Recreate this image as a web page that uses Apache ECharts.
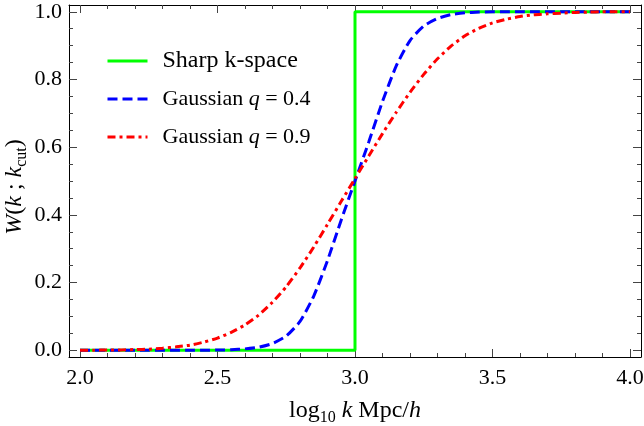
<!DOCTYPE html>
<html>
<head>
<meta charset="utf-8">
<script src="https://cdn.jsdelivr.net/npm/echarts@6/dist/echarts.min.js"></script>
<style>html,body{margin:0;padding:0;background:#fff}#c{width:644px;height:426px}</style>
</head>
<body>
<div id="c"></div>
<script>
// ---- data ----
const seriesNames = ['Sharp k-space', 'Gaussian q = 0.4', 'Gaussian q = 0.9'];
const sharpX = [2.0, 3.0, 3.0, 4.0];
const sharpY = [0, 0, 1, 1];
const gaussX = [2.0, 2.05, 2.1, 2.15, 2.2, 2.25, 2.3, 2.35, 2.4, 2.45, 2.5, 2.55, 2.6, 2.65, 2.7, 2.75, 2.8, 2.85, 2.9, 2.95, 3.0,
                3.05, 3.1, 3.15, 3.2, 3.25, 3.3, 3.35, 3.4, 3.45, 3.5, 3.55, 3.6, 3.65, 3.7, 3.75, 3.8, 3.85, 3.9, 3.95, 4.0];
const gaussQ04 = [0, 0, 0, 0, 0, 0, 0, 0, 0, 0.0002, 0.0005, 0.0015, 0.004, 0.009, 0.02, 0.042, 0.085, 0.16, 0.265, 0.385, 0.5,
                  0.615, 0.735, 0.84, 0.915, 0.958, 0.98, 0.992, 0.997, 0.999, 1, 1, 1, 1, 1, 1, 1, 1, 1, 1, 1];
const gaussQ09 = [0, 0.0002, 0.0005, 0.001, 0.002, 0.003, 0.006, 0.01, 0.015, 0.024, 0.036, 0.053, 0.075, 0.104, 0.142, 0.188, 0.243, 0.305, 0.372, 0.44, 0.507,
                  0.574, 0.64, 0.703, 0.762, 0.815, 0.861, 0.899, 0.929, 0.951, 0.967, 0.978, 0.986, 0.991, 0.994, 0.996, 0.998, 0.999, 1, 1, 1];
const xMajor = [2.0, 2.5, 3.0, 3.5, 4.0];
const xMinor = [2.1, 2.2, 2.3, 2.4, 2.6, 2.7, 2.8, 2.9, 3.1, 3.2, 3.3, 3.4, 3.6, 3.7, 3.8, 3.9];
const yMajor = [0.0, 0.2, 0.4, 0.6, 0.8, 1.0];
const yMinor = [0.05, 0.1, 0.15, 0.25, 0.3, 0.35, 0.45, 0.5, 0.55, 0.65, 0.7, 0.75, 0.85, 0.9, 0.95];
const xRange = [1.96, 4.04];
const yRange = [-0.02, 1.02];

const zip = (a, b) => a.map((v, i) => [v, b[i]]);
const FONT = 'Liberation Serif';
const LBL = 22;
const NM = 24;
const rich = {
  n: {fontFamily: FONT, fontSize: NM, color: '#000'},
  i: {fontFamily: FONT, fontSize: NM, fontStyle: 'italic', color: '#000'},
  s: {fontFamily: FONT, fontSize: 16, lineHeight: 16, padding: [13, 0, 0, 0], color: '#000'}
};
const tickColor = '#444';
const fmt = v => v.toFixed(1);

function xAxisDef(pos, vals, len, main) {
  return {
    type: 'value', position: pos, min: xRange[0], max: xRange[1], offset: 0,
    axisLine: {show: main !== null, onZero: false, lineStyle: {color: '#000', width: 1}},
    axisTick: {show: true, inside: true, length: len, customValues: vals, lineStyle: {color: tickColor, width: 1}},
    axisLabel: main ? {show: true, customValues: xMajor, formatter: fmt, fontFamily: FONT, fontSize: LBL, color: '#000', margin: 10} : {show: false},
    splitLine: {show: false}, minorTick: {show: false},
    name: main ? '{n|log}{s|10}{n| }{i|k}{n| Mpc/}{i|h}' : '',
    nameLocation: 'middle', nameGap: 42, nameMoveOverlap: false, nameTextStyle: {rich: rich}
  };
}
function yAxisDef(pos, vals, len, main) {
  return {
    type: 'value', position: pos, min: yRange[0], max: yRange[1], offset: 0,
    axisLine: {show: main !== null, onZero: false, lineStyle: {color: '#000', width: 1}},
    axisTick: {show: true, inside: true, length: len, customValues: vals, lineStyle: {color: tickColor, width: 1}},
    axisLabel: main ? {show: true, customValues: yMajor, formatter: fmt, fontFamily: FONT, fontSize: LBL, color: '#000', margin: 7} : {show: false},
    splitLine: {show: false}, minorTick: {show: false},
    name: main ? '{i|W}{n|(}{i|k}{n| ; }{i|k}{s|cut}{n|)}' : '',
    nameLocation: 'middle', nameGap: 42, nameRotate: 90, nameMoveOverlap: false,
    nameTextStyle: {rich: rich, padding: [0, 12, 0, 0]}
  };
}

const chart = echarts.init(document.getElementById('c'), null, {renderer: 'canvas'});
chart.setOption({
  animation: false,
  backgroundColor: '#fff',
  grid: {left: 69, right: 3, top: 5, bottom: 69, containLabel: false, outerBoundsMode: 'none'},
  xAxis: [
    xAxisDef('bottom', xMajor, 8, true),
    xAxisDef('top', xMajor, 8, false),
    xAxisDef('bottom', xMinor, 4, null),
    xAxisDef('top', xMinor, 4, null)
  ],
  yAxis: [
    yAxisDef('left', yMajor, 8, true),
    yAxisDef('right', yMajor, 8, false),
    yAxisDef('left', yMinor, 4, null),
    yAxisDef('right', yMinor, 4, null)
  ],
  legend: {
    show: true, orient: 'vertical', left: 101, top: 44,
    itemWidth: 40, itemHeight: 14, itemGap: 14, selectedMode: false,
    lineStyle: {width: 3},
    itemStyle: {opacity: 0},
    data: seriesNames,
    formatter: name => {
      if (name === seriesNames[0]) return '{b|Sharp k-space}';
      if (name === seriesNames[1]) return '{n|Gaussian }{i|q}{n| = 0.4}';
      return '{n|Gaussian }{i|q}{n| = 0.9}';
    },
    textStyle: {padding: [0, 0, 0, 10], lineHeight: 24, rich: {
      b: {fontFamily: FONT, fontSize: 24, color: '#000', lineHeight: 24},
      n: {fontFamily: FONT, fontSize: 22, color: '#000', lineHeight: 24},
      i: {fontFamily: FONT, fontSize: 22, fontStyle: 'italic', color: '#000', lineHeight: 24}
    }}
  },
  series: [
    {name: seriesNames[0], type: 'line', data: zip(sharpX, sharpY), showSymbol: false, symbol: 'none',
     lineStyle: {color: '#00ff00', width: 3}, itemStyle: {color: '#00ff00'}},
    {name: seriesNames[1], type: 'line', data: zip(gaussX, gaussQ04), showSymbol: false, symbol: 'none',
     smooth: 0.2,
     lineStyle: {color: '#0000ff', width: 3, type: [10, 5]}, itemStyle: {color: '#0000ff'}},
    {name: seriesNames[2], type: 'line', data: zip(gaussX, gaussQ09), showSymbol: false, symbol: 'none',
     smooth: 0.2,
     lineStyle: {color: '#ff0000', width: 3, type: [8, 4, 3, 4]}, itemStyle: {color: '#ff0000'}}
  ]
});
</script>
</body>
</html>
